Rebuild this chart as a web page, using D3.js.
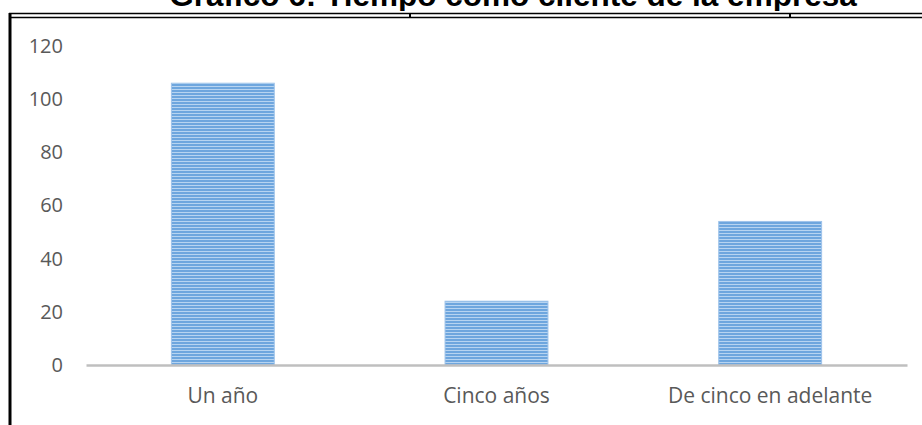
<!DOCTYPE html>
<html><head><meta charset="utf-8">
<script src="https://cdn.jsdelivr.net/npm/d3@7"></script>
<style>body{margin:0;background:#fff;overflow:hidden}svg{display:block}</style>
</head><body>
<script>
const title = "Gráfico 6: Tiempo como cliente de la empresa";
const categories = ["Un año", "Cinco años", "De cinco en adelante"];
const values = [106, 24, 54];
const yTicks = [0, 20, 40, 60, 80, 100, 120];

const W = 922, H = 425;
const svg = d3.select("body").append("svg").attr("width", W).attr("height", H);

const defs = svg.append("defs");
const pat = defs.append("pattern").attr("id", "stripes").attr("patternUnits", "userSpaceOnUse")
  .attr("width", 8).attr("height", 3);
pat.append("rect").attr("width", 8).attr("height", 3).attr("fill", "#6ea6de");
pat.append("rect").attr("y", 2).attr("width", 8).attr("height", 1).attr("fill", "#b7d4f1");

// title (partially clipped at the top, as in the reference)
svg.append("text").attr("x", 513).attr("y", 6).attr("text-anchor", "middle")
  .attr("font-family", "Liberation Sans, Arial, sans-serif").attr("font-weight", "bold")
  .attr("font-size", 31.5).attr("fill", "#000").text(title);

// document-style frame
const frame = svg.append("g").attr("stroke", "#000").attr("fill", "none");
frame.append("rect").attr("x", 0).attr("y", 11).attr("width", W).attr("height", 9).attr("fill", "#fff").attr("stroke", "none");
frame.append("line").attr("x1", 9).attr("x2", W).attr("y1", 13.5).attr("y2", 13.5).attr("stroke-width", 1.5);
frame.append("line").attr("x1", 11).attr("x2", W).attr("y1", 17.5).attr("y2", 17.5).attr("stroke-width", 1.5);
frame.append("line").attr("x1", 10).attr("x2", 10).attr("y1", 13).attr("y2", H).attr("stroke-width", 3);
[410, 790].forEach(x => frame.append("line").attr("x1", x).attr("x2", x).attr("y1", 13).attr("y2", 18).attr("stroke-width", 2));

const x = d3.scaleBand().domain(categories).range([86, 907]).paddingInner(0.624).paddingOuter(0.312);
const y = d3.scaleLinear().domain([0, 120]).range([365, 46]);

// y tick labels
const yAxis = d3.axisLeft(y).tickValues(yTicks).tickSize(0).tickPadding(0);
const ya = svg.append("g").attr("transform", "translate(63,0)").call(yAxis);
ya.select(".domain").remove();
ya.selectAll("text").attr("font-family", "Open Sans, sans-serif").attr("font-size", 20).attr("fill", "#595959");

// bars
svg.append("g").selectAll("rect").data(values).join("rect")
  .attr("x", (d, i) => x(categories[i]))
  .attr("width", x.bandwidth())
  .attr("y", d => y(d))
  .attr("height", d => y(0) - y(d))
  .attr("fill", "url(#stripes)")
  .attr("stroke", "#9ec3ea").attr("stroke-width", 1);

// x axis
const xAxis = d3.axisBottom(x).tickSize(0).tickPadding(23);
const xa = svg.append("g").attr("transform", `translate(0,${y(0)})`).call(xAxis);
xa.select(".domain").attr("stroke", "#bfbfbf").attr("stroke-width", 2.5);
xa.selectAll("text").attr("font-family", "Open Sans, sans-serif").attr("font-size", 21).attr("fill", "#595959");
</script>
</body></html>
